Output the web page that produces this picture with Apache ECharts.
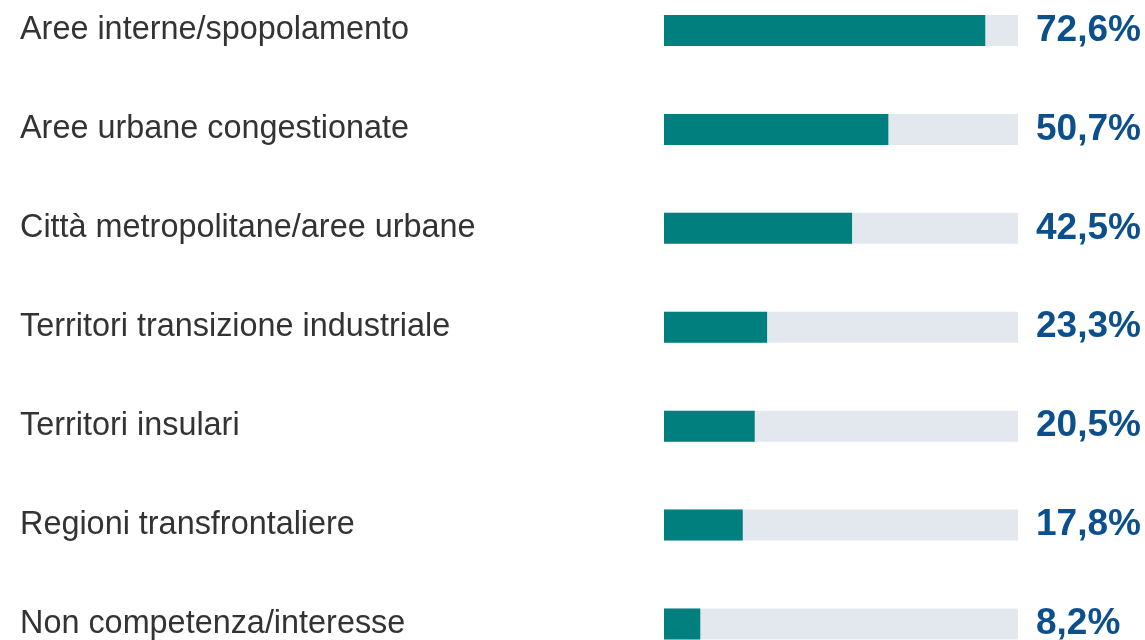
<!DOCTYPE html>
<html lang="it">
<head>
  <meta charset="UTF-8">
  <title>Aree</title>
  <script src="https://cdn.jsdelivr.net/npm/echarts@6/dist/echarts.min.js"></script>
  <style>body{margin:0;background:#fff}</style>
</head>
<body>
  <div id="main" style="width:1145px;height:640px"></div>

  <script>
  const categories = ['Aree interne/spopolamento','Aree urbane congestionate','Città metropolitane/aree urbane','Territori transizione industriale','Territori insulari','Regioni transfrontaliere','Non competenza/interesse'];
  const values = [72.6, 50.7, 42.5, 23.3, 20.5, 17.8, 8.2];
  const trackMax = 80;
  const track = categories.map(() => trackMax);

  const chart = echarts.init(document.getElementById('main'));
  chart.setOption({
    animation:false,
    grid:{left:664,right:127,top:30.5,bottom:14.5},
    xAxis:{type:'value',min:0,max:trackMax,show:false},
    yAxis:{
      type:'category',data:categories,inverse:true,boundaryGap:false,
      axisLine:{show:false},axisTick:{show:false},splitLine:{show:false},
      axisLabel:{align:'left',margin:644,fontSize:32.4,color:'#333',fontFamily:'Liberation Sans, Arial'}
    },
    series:[
      {type:'bar',data:track,barWidth:31,itemStyle:{color:'#e3e8ef'},silent:true,
       label:{show:true,position:'right',distance:18,fontSize:37,fontWeight:'bold',color:'#0b4f8c',fontFamily:'Liberation Sans, Arial',
              formatter:p=>values[p.dataIndex].toFixed(1).replace('.',',')+'%'}},
      {type:'bar',data:values,barWidth:31,barGap:'-100%',itemStyle:{color:'#007f7f'}}
    ]
  });
  </script>
</body>
</html>
